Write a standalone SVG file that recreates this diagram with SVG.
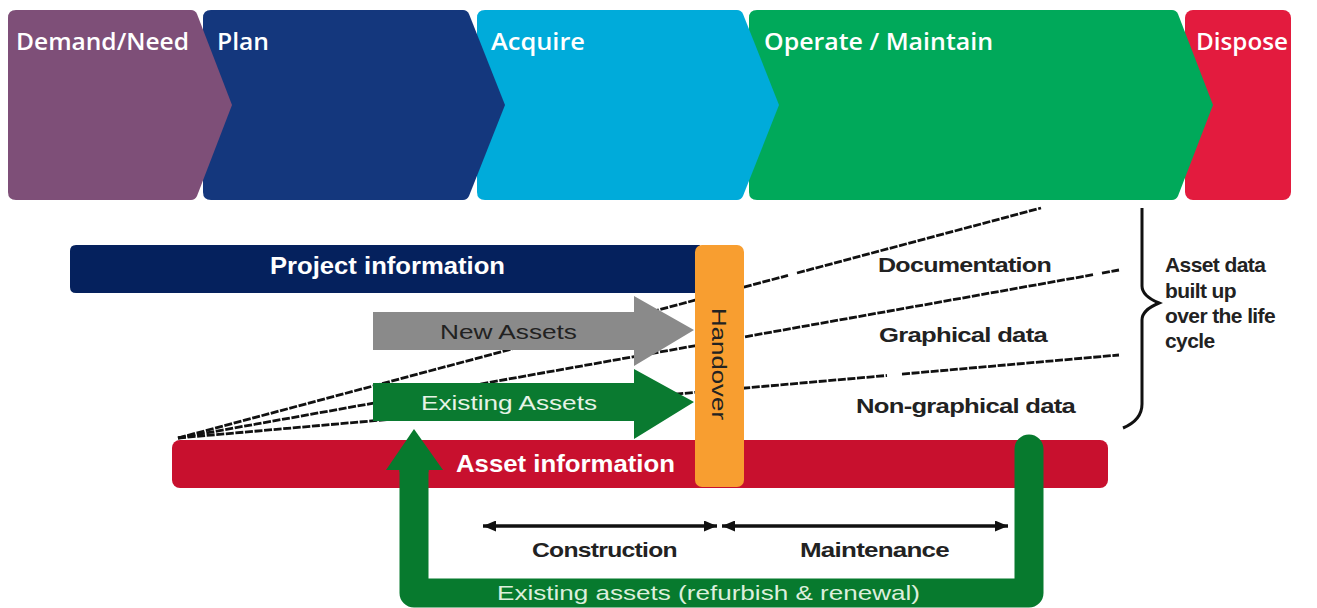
<svg xmlns="http://www.w3.org/2000/svg" width="1317" height="608" viewBox="0 0 1317 608">
  <defs>
    <style>
      .phase { font-family: "Open Sans", "Liberation Sans", sans-serif; font-weight: 600; font-size: 24px; fill: #ffffff; }
      .barlabel { font-family: "Liberation Sans", Arial, sans-serif; font-weight: bold; font-size: 24px; fill: #ffffff; }
      .arrowlabel { font-family: "Liberation Sans", Arial, sans-serif; font-size: 21px; }
      .datalabel { font-family: "Liberation Sans", Arial, sans-serif; font-weight: bold; font-size: 21px; fill: #222222; letter-spacing: -0.6px; }
      .dash { fill: none; stroke: #111111; stroke-width: 2.8; stroke-dasharray: 8 1.6; }
      .span { fill: none; stroke: #111111; stroke-width: 3.5; marker-start: url(#tip); marker-end: url(#tip); }
    </style>
    <marker id="tip" viewBox="0 0 13 11" refX="13" refY="5.5" markerWidth="13" markerHeight="11" markerUnits="userSpaceOnUse" orient="auto-start-reverse">
      <path d="M0,0 L13,5.5 L0,11 Z" fill="#111111"/>
    </marker>
  </defs>

  <rect width="1317" height="608" fill="#ffffff"/>

  <!-- Life-cycle phases: drawn right to left so each chevron point overlaps the next phase -->
  <g id="phase-dispose">
    <rect x="1185" y="10" width="106" height="190" rx="8" fill="#e31b3e"/>
    <text class="phase" x="1196" y="50" textLength="92" lengthAdjust="spacingAndGlyphs">Dispose</text>
  </g>
  <g id="phase-operate">
    <path d="M757,10 H1172 Q1176,10 1178,14 L1213,105 L1178,196 Q1176,200 1172,200 H757 Q749,200 749,192 V18 Q749,10 757,10 Z" fill="#00a95a"/>
    <text class="phase" x="764" y="50" textLength="229" lengthAdjust="spacingAndGlyphs">Operate / Maintain</text>
  </g>
  <g id="phase-acquire">
    <path d="M485,10 H737 Q741,10 743,14 L779,105 L743,196 Q741,200 737,200 H485 Q477,200 477,192 V18 Q477,10 485,10 Z" fill="#00abda"/>
    <text class="phase" x="491" y="50" textLength="94" lengthAdjust="spacingAndGlyphs">Acquire</text>
  </g>
  <g id="phase-plan">
    <path d="M211,10 H463 Q467,10 469,14 L505,105 L469,196 Q467,200 463,200 H211 Q203,200 203,192 V18 Q203,10 211,10 Z" fill="#14377d"/>
    <text class="phase" x="217" y="50" textLength="52" lengthAdjust="spacingAndGlyphs">Plan</text>
  </g>
  <g id="phase-demand">
    <path d="M16,10 H191 Q195,10 197,14 L232,105 L197,196 Q195,200 191,200 H16 Q8,200 8,192 V18 Q8,10 16,10 Z" fill="#7e4f78"/>
    <text class="phase" x="16" y="50" textLength="173" lengthAdjust="spacingAndGlyphs">Demand/Need</text>
  </g>

  <!-- Data strands fanning out from the start of asset information -->
  <g id="connectors">
    <path class="dash" d="M178,438 L788,275.4 M797,273 L1041,208"/>
    <path class="dash" d="M178,438 L1093,274.7 M1102,273.1 L1119,270"/>
    <path class="dash" d="M178,438 L887,375.5 M902,374.1 L1119,355"/>
    <path class="span" d="M483,526 H717"/>
    <path class="span" d="M722,526 H1008"/>
  </g>

  <g id="project-information">
    <path d="M76,245 H700 V293 H76 Q70,293 70,287 V251 Q70,245 76,245 Z" fill="#05215d"/>
    <text class="barlabel" x="270" y="274" textLength="235" lengthAdjust="spacingAndGlyphs">Project information</text>
  </g>

  <g id="new-assets">
    <path d="M373,312 H634 V296 L694,330 L634,366 V350 H373 Z" fill="#8a8a8a"/>
    <text class="arrowlabel" x="440" y="339" fill="#222222" textLength="137" lengthAdjust="spacingAndGlyphs">New Assets</text>
  </g>

  <g id="existing-assets">
    <path d="M373,383 H634 V369 L694,402 L634,439 V421 H373 Z" fill="#0a7a30"/>
    <text class="arrowlabel" x="421" y="410" fill="#e6f3e6" textLength="176" lengthAdjust="spacingAndGlyphs">Existing Assets</text>
  </g>

  <g id="asset-information">
    <rect x="172" y="440" width="936" height="48" rx="8" fill="#c8102e"/>
    <text class="barlabel" x="456" y="472" font-size="25" textLength="219" lengthAdjust="spacingAndGlyphs">Asset information</text>
  </g>

  <g id="handover">
    <rect x="695" y="245" width="49" height="242" rx="7" fill="#f89e30"/>
    <text class="arrowlabel" transform="translate(712,364) rotate(90)" text-anchor="middle" fill="#222222" textLength="112" lengthAdjust="spacingAndGlyphs">Handover</text>
  </g>

  <!-- Refurbish and renewal loop back into existing assets -->
  <g id="renewal-loop">
    <path d="M1029,449 V593 H414 V466" fill="none" stroke="#077a2e" stroke-width="29" stroke-linejoin="round" stroke-linecap="round"/>
    <rect x="399.5" y="466" width="29" height="6" fill="#077a2e"/>
    <path d="M386,470 L443,470 L414,429 Z" fill="#077a2e"/>
    <text class="arrowlabel" x="497" y="600" font-size="22" fill="#dcefdc" textLength="423" lengthAdjust="spacingAndGlyphs">Existing assets (refurbish &amp; renewal)</text>
  </g>

  <g id="stage-labels">
    <text class="datalabel" x="532" y="557" font-size="22" textLength="145" lengthAdjust="spacingAndGlyphs">Construction</text>
    <text class="datalabel" x="800" y="557" font-size="22" textLength="149" lengthAdjust="spacingAndGlyphs">Maintenance</text>
  </g>

  <g id="data-types">
    <text class="datalabel" x="878" y="272" textLength="173" lengthAdjust="spacingAndGlyphs">Documentation</text>
    <text class="datalabel" x="879" y="342" textLength="168" lengthAdjust="spacingAndGlyphs">Graphical data</text>
    <text class="datalabel" x="856" y="413" textLength="219" lengthAdjust="spacingAndGlyphs">Non-graphical data</text>
  </g>

  <g id="asset-data-brace">
    <path d="M1142,208 V286 Q1142,296 1159,303 Q1142,310 1142,320 V404 Q1142,420 1123,428" fill="none" stroke="#111111" stroke-width="3"/>
    <text class="datalabel" font-size="23">
      <tspan x="1165" y="272">Asset data</tspan>
      <tspan x="1165" y="298">built up</tspan>
      <tspan x="1165" y="323">over the life</tspan>
      <tspan x="1165" y="348">cycle</tspan>
    </text>
  </g>
</svg>
